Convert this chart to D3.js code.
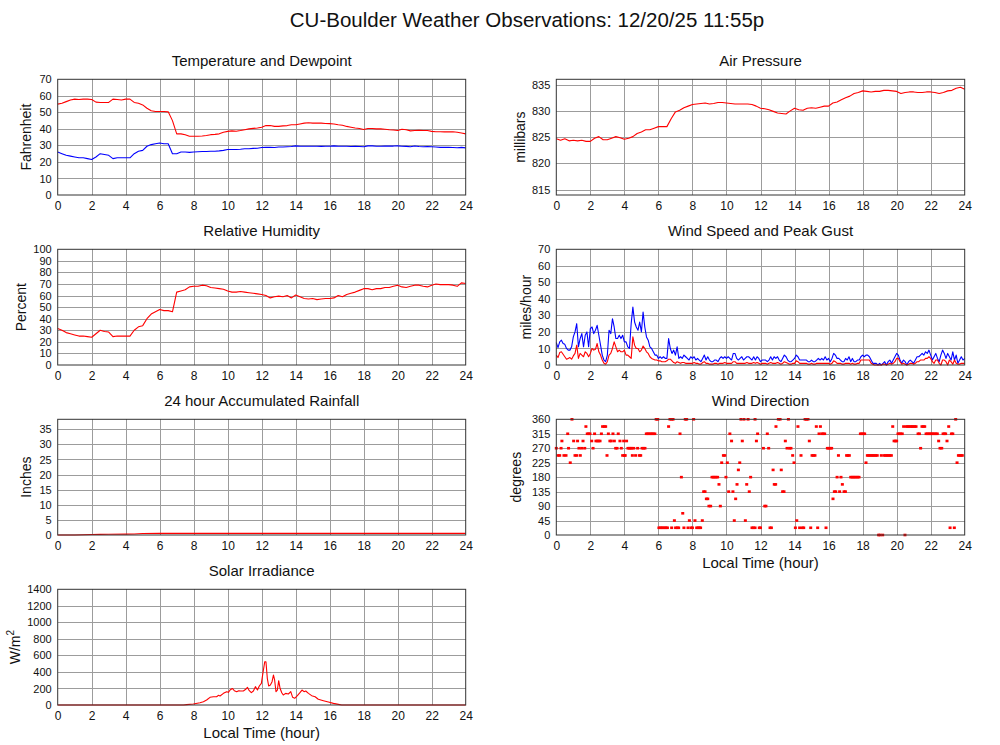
<!DOCTYPE html>
<html><head><meta charset="utf-8">
<script src="https://cdn.jsdelivr.net/npm/d3@7"></script>
<style>
body{margin:0;background:#fff}
svg{display:block}
text{font-family:"Liberation Sans",Arial,Helvetica,sans-serif;fill:#111}
</style>
</head><body>
<svg id="c" width="1000" height="745"></svg>
<script>
// ---------------- DATA ----------------
const mainTitle = "CU-Boulder Weather Observations: 12/20/25 11:55p";
const xTicks = [0,2,4,6,8,10,12,14,16,18,20,22,24];
const quarterHours = d3.range(0, 24.001, 0.25);   // 97 sample times
const tenthHours = d3.range(0, 24.0001, 0.1);     // 241 sample times

const tempF = [55,55.5,56.5,57.5,58,57.8,58,58,57.8,
 56.2,56,56,56,58,57.8,57.5,58,
 58,56,55.5,54.5,52.5,51,50.5,50.5,
 50.5,50.3,45,37,37,36.5,35.5,35.5,
 35.5,35.7,36,36.5,36.7,37,38,38.5,
 38.8,38.6,39,39.5,40,40.3,40.5,41,
 42,42,41.5,41.5,41.8,42,42.5,42.5,
 43,43.5,43.7,43.5,43.5,43.5,43.3,43.2,
 43,42.5,42.2,41.5,41,40.5,40.2,39.6,
 40.2,40.2,40,40,39.8,39.5,39.3,39,
 39.8,39.5,38.8,39,39.2,39,39,38.5,
 38.3,38.3,38.2,38.2,38.3,38,37.5,37];

const dewF = [26,25,24,23.5,23,22.5,22.5,22,21.5,
 23,25,24.5,24,22,22.5,22.5,22.5,
 22.5,25,26.5,27,29.5,30.5,31,31.5,
 31,31,25,25,26,26,25.8,26,
 26.2,26.3,26.3,26.5,26.5,26.7,27,27.5,
 27.5,27.5,27.7,28,28,28.2,28.3,28.7,
 28.8,28.8,28.7,29,29,29.2,29.3,29.7,
 29.5,29.5,29.5,29.5,29.5,29.4,29.5,29.5,
 29.7,29.5,29.5,29.5,29.3,29.4,29.3,29.2,
 29.7,29.7,29.5,29.5,29.6,29.6,29.6,29.7,
 29.5,29.4,29.2,29.6,29.3,29.2,29.3,29.2,
 29,28.8,28.8,28.8,28.7,28.6,28.8,28.5];

const humidity = [31.5,30,28,27,26,25,25,24.5,24,
 27,30,29,28.5,24.5,25,25,25,
 25,30,33,34,40,44,46,48,
 47,47,46,63,64,65,67.5,68,
 68,69,68.5,67,66.5,66,65.5,64,
 63,63,63.5,63,62.5,62,61.5,61,
 60,58,59,59.5,59,60,58,60.5,
 59,57.5,57,57.5,56.5,57,57.5,57.5,
 58,60,59,61,62,63,64.5,66,
 66,65,66,66,67,67,68,69,
 67.5,67,68,69,69,68,67.5,69,
 70,69.5,69.5,69.5,69,68,71,70.5];

const pressure = [824.7,824.4,824.7,824.3,824.4,824.3,824.4,824.2,824.2,
 824.8,825.1,824.5,824.5,824.8,825.1,824.9,824.6,
 824.8,825.1,825.7,826,826.4,826.4,826.7,827,
 827,827,828.5,829.8,830.1,830.6,830.9,831.2,
 831.3,831.4,831.5,831.3,831.4,831.6,831.6,831.5,
 831.4,831.3,831.3,831.3,831.3,831.2,830.9,830.5,
 830.4,830.2,829.9,829.6,829.5,829.4,830,830.5,
 830.2,830.1,830.5,830.6,830.5,830.7,830.9,830.9,
 831.5,831.7,832.1,832.5,832.8,833.3,833.5,833.8,
 833.7,833.6,833.7,833.7,833.9,833.9,833.8,833.7,
 833.3,833.5,833.6,833.6,833.5,833.5,833.6,833.6,
 833.5,833.3,833.5,833.8,833.9,834.3,834.5,834.1];

const windGust = [13.5,10.5,14,15,13,12.5,10,9,9,11,
 17,20,25,11,16,19,11,18,20,11,
 22,23,19,21,24,18,12,6,3,2,
 6,21,19,28,23,16,16,18,16,18,
 14,14,11,10,25,35,26,23,21,26,
 20,32,23,17,15,11,10,8,6,6,
 4,5,4,5,4,4,16,10,7,9,
 6,11,4,5,4,6,5,4,3,
 5,4,5,3,4,3,2,4,6,3,
 5,3,2,2,3,3,2,4,5,4,
 5,4,5,4,3,7,7,4,3,4,
 5,3,4,5,5,4,3,5,3,5,
 4,2,3,3,3,2,3,5,3,5,
 4,5,3,2,4,6,5,3,2,2,
 3,4,6,5,3,3,3,3,3,2,
 2,3,2,2,3,4,3,4,3,5,
 3,4,2,4,7,6,4,4,3,2,
 2,4,3,5,2,4,2,2,3,3,
 5,6,5,6,6,5,3,1,1,1,
 0,1,0,1,2,0,2,3,1,3,
 5,7,6,3,1,3,2,0,2,3,
 2,1,3,5,5,6,7,6,8,7,
 9,6,3,5,7,4,2,6,9,7,
 4,7,5,3,8,3,6,1,3,5,
 3,4];

const windSpeed = [6,4.5,7.5,8,6.5,5,3.5,4,4.5,3.5,
 5.5,7,12,4,7,6,5,8,7,5,
 7,10,9,9.5,13,8,6,3,1,0.5,
 2,6,7,10,14,11,8,9,8,8,
 9,6,6,5,4,17,12,10,10,8,
 9,11.5,10,8,7,5,4,3.5,3,3,
 2.5,2.5,2,2,2,2.5,3.5,3.5,2.5,1.5,
 1,2,1.5,1,1.5,1.5,1,1,1,
 1,1,1.5,1,1,0.5,0.5,1.5,2,1,
 1,0.5,0.5,0.5,1,1,0.5,1,1,1,
 1.5,1,1,1,1,2,2,1,1,1,
 1,1,1,1.5,1,1,1,1.5,1,1.5,
 1,0.5,1,1,1,0.5,1,1.5,1,1,
 1,1.5,1,0.5,1,2,1.5,1,0.5,0.5,
 1,1,2.5,2,1,1,1,1,1,0.5,
 0.5,1,0.5,0.5,1,1,1,1,1,1,
 1,1,0.5,1,2.5,2,1,1,1,0.5,
 0.5,1,1,1,0.5,1,0.5,0.5,1,1,
 3,3,3,3,3,3,1,0.5,0,0,
 0,0,0,0.5,0.5,0,0.5,1,0.5,1,
 2,4,4,2,0.5,1,0.5,0,0.5,1,
 1,0.5,1,2,2,3,3,3,4,4,
 5,4,2,1,3,3,1,0,3,3,
 2,0,3,2,0.5,3,1,0.5,0.5,1,
 1,1];

// [hour, inches]
const rainfall = [[0,0],[1,0],[1.5,0.1],[2,0.15],[2.5,0.2],[3,0.25],[4,0.3],[4.5,0.35],[5,0.5],[6,0.55],[24,0.55]];

// [hour, degrees]
const windDirection = [
 [0,270],[0.1,247.5],[0.2,247.5],[0.28,270],[0.33,292.5],[0.45,247.5],[0.57,247.5],[0.67,315],[0.72,270],[0.82,225],
 [0.92,360],[1.02,292.5],[1.1,247.5],[1.2,247.5],[1.25,292.5],[1.33,270],[1.41,247.5],[1.49,270],[1.57,292.5],[1.67,270],
 [1.74,337.5],[1.82,315],[1.9,315],[1.98,315],[2.08,292.5],[2.16,270],[2.25,315],[2.33,292.5],[2.41,292.5],[2.49,292.5],
 [2.57,292.5],[2.65,315],[2.72,337.5],[2.82,337.5],[2.9,337.5],[2.98,247.5],[3.06,315],[3.15,292.5],[3.23,292.5],[3.33,315],
 [3.41,292.5],[3.49,270],[3.57,270],[3.64,315],[3.74,292.5],[3.82,270],[3.9,247.5],[3.96,292.5],[4.0,247.5],[4.05,247.5],
 [4.13,292.5],[4.21,270],[4.29,270],[4.37,270],[4.44,270],[4.47,247.5],[4.55,270],[4.66,247.5],[4.78,270],[4.88,247.5],
 [4.96,247.5],[5.04,270],[5.13,270],[5.21,270],[5.29,315],[5.37,315],[5.45,315],[5.54,315],[5.62,315],[5.7,315],
 [5.79,315],[5.87,360],[5.96,360],[6.03,22.5],[6.12,22.5],[6.2,22.5],[6.28,22.5],[6.37,22.5],[6.45,22.5],[6.53,22.5],
 [6.6,337.5],[6.68,360],[6.78,360],[6.86,360],[6.78,22.5],[6.94,45],[7.01,22.5],[7.11,22.5],[7.19,22.5],[7.27,315],
 [7.35,180],[7.43,67.5],[7.5,22.5],[7.58,360],[7.66,360],[7.74,22.5],[7.82,45],[7.92,22.5],[8.0,22.5],[8.07,360],
 [8.15,45],[8.25,22.5],[8.33,22.5],[8.41,22.5],[8.48,22.5],[8.58,45],[8.66,135],[8.74,135],[8.82,112.5],[8.9,112.5],
 [8.97,90],[9.07,90],[9.15,180],[9.23,180],[9.31,180],[9.39,180],[9.48,180],[9.56,157.5],[9.64,90],[9.72,225],
 [9.82,247.5],[9.9,247.5],[9.97,180],[10.05,225],[10.13,135],[10.2,315],[10.3,292.5],[10.38,135],[10.46,45],[10.54,112.5],
 [10.62,157.5],[10.7,202.5],[10.78,225],[10.85,360],[10.93,292.5],[11.03,360],[11.11,45],[11.19,157.5],[11.27,360],[11.34,135],
 [11.42,180],[11.5,22.5],[11.58,22.5],[11.68,22.5],[11.68,360],[11.76,292.5],[11.83,315],[11.93,22.5],[12.0,22.5],[12.17,270],
 [12.25,90],[12.32,90],[12.4,315],[12.48,270],[12.56,22.5],[12.64,22.5],[12.74,202.5],[12.81,157.5],[12.89,157.5],[12.91,337.5],
 [13.05,360],[13.15,360],[13.22,202.5],[13.3,135],[13.38,135],[13.46,292.5],[13.56,270],[13.64,360],[13.71,270],[13.79,270],
 [13.89,247.5],[13.97,225],[14.05,22.5],[14.13,45],[14.2,337.5],[14.3,22.5],[14.38,247.5],[14.46,22.5],[14.54,22.5],[14.62,360],
 [14.7,360],[14.79,360],[14.87,292.5],[14.95,22.5],[15.03,247.5],[15.11,247.5],[15.2,247.5],[15.28,337.5],[15.36,22.5],[15.44,315],
 [15.52,337.5],[15.6,315],[15.68,315],[15.77,315],[15.85,22.5],[15.93,270],[16.01,270],[16.1,270],[16.18,270],[16.26,112.5],
 [16.34,135],[16.42,135],[16.5,180],[16.58,247.5],[16.65,135],[16.73,180],[16.81,157.5],[16.91,135],[16.99,135],[17.06,247.5],
 [17.14,247.5],[17.22,247.5],[17.3,180],[17.38,180],[17.46,180],[17.54,180],[17.62,180],[17.71,180],[17.79,180],[17.87,315],
 [17.95,315],[18.04,315],[18.12,315],[18.2,225],[18.28,247.5],[18.36,247.5],[18.45,247.5],[18.53,247.5],[18.61,247.5],[18.69,247.5],
 [18.77,247.5],[18.86,247.5],[18.94,0],[19.02,0],[19.18,0],[19.1,247.5],[19.27,247.5],[19.35,247.5],[19.44,247.5],[19.52,247.5],
 [19.6,247.5],[19.69,247.5],[19.77,337.5],[19.85,292.5],[19.93,292.5],[20.0,292.5],[20.08,315],[20.16,315],[20.24,315],[20.33,315],
 [20.41,337.5],[20.49,0],[20.57,337.5],[20.65,337.5],[20.73,337.5],[20.82,337.5],[20.9,337.5],[20.98,337.5],[21.06,337.5],[21.14,337.5],
 [21.26,315],[21.34,315],[21.41,270],[21.49,337.5],[21.57,337.5],[21.65,337.5],[21.73,315],[21.81,315],[21.9,315],[21.98,315],
 [22.06,315],[22.14,315],[22.22,315],[22.31,315],[22.39,315],[22.47,292.5],[22.55,270],[22.65,270],[22.73,315],[22.81,315],
 [22.88,315],[22.96,292.5],[23.06,337.5],[23.14,22.5],[23.22,315],[23.3,315],[23.39,22.5],[23.47,360],[23.55,225],[23.63,247.5],
 [23.71,247.5],[23.79,247.5],[23.86,247.5]];

// [hour, W/m^2]
const solar = [[0,0],[7.4,0],[7.59,4],[7.98,12],[8.37,28],[8.57,40],[8.76,60],[8.96,93],[9.16,100],[9.35,100],[9.45,117],[9.55,109],
 [9.75,141],[9.94,161],[10.04,153],[10.14,181],[10.27,200],[10.39,173],[10.53,161],[10.65,173],[10.76,169],[10.92,169],
 [11.06,190],[11.16,214],[11.27,173],[11.39,149],[11.51,169],[11.63,222],[11.75,181],[11.86,230],[11.98,262],[12.1,424],
 [12.18,524],[12.25,524],[12.33,323],[12.41,230],[12.51,242],[12.61,282],[12.69,363],[12.76,303],[12.84,161],[12.92,181],
 [13.0,294],[13.08,202],[13.18,149],[13.27,121],[13.41,141],[13.57,133],[13.71,161],[13.82,93],[13.94,81],[14.1,113],
 [14.25,149],[14.37,181],[14.49,161],[14.59,169],[14.75,141],[14.94,113],[15.14,100],[15.33,69],[15.63,52],[15.92,36],
 [16.22,20],[16.51,8],[16.71,0],[24,0]];

// ---------------- LAYOUT ----------------
const cols = [[57.7, 465.7],[556.3, 964.7]];
const rows = [[79.3,195],[249.3,365],[419.3,535],[589.3,705]];

const panels = [
 {title:"Temperature and Dewpoint", ylabel:"Fahrenheit", c:0, r:0, domain:[0,70], yticks:d3.range(0,71,10), labelX:26,
  lines:[{x:quarterHours,y:tempF,color:"#ff0000"},{x:quarterHours,y:dewF,color:"#0000ff"}]},
 {title:"Air Pressure", ylabel:"millibars", c:1, r:0, domain:[814,836], yticks:[815,820,825,830,835], labelX:520,
  lines:[{x:quarterHours,y:pressure,color:"#ff0000"}]},
 {title:"Relative Humidity", ylabel:"Percent", c:0, r:1, domain:[0,100], yticks:d3.range(0,101,10), labelX:21,
  lines:[{x:quarterHours,y:humidity,color:"#ff0000"}]},
 {title:"Wind Speed and Peak Gust", ylabel:"miles/hour", c:1, r:1, domain:[0,70], yticks:d3.range(0,71,10), labelX:526,
  lines:[{x:tenthHours,y:windGust,color:"#0000ff"},{x:tenthHours,y:windSpeed,color:"#ff0000"}]},
 {title:"24 hour Accumulated Rainfall", ylabel:"Inches", c:0, r:2, domain:[0,38.3], yticks:d3.range(0,36,5), labelX:26,
  lines:[{x:rainfall.map(d=>d[0]),y:rainfall.map(d=>d[1]),color:"#ff0000"}]},
 {title:"Wind Direction", ylabel:"degrees", c:1, r:2, domain:[0,360], yticks:d3.range(0,361,45), labelX:516, xlabel:true,
  points:windDirection},
 {title:"Solar Irradiance", ylabel:"W/m", sup:"2", c:0, r:3, domain:[0,1400], yticks:d3.range(0,1401,200), labelX:15, xlabel:true,
  lines:[{x:solar.map(d=>d[0]),y:solar.map(d=>d[1]),color:"#ff0000"}]}
];

const svg = d3.select("#c");
const FONT = '"Liberation Sans",Arial,Helvetica,sans-serif';
const fmt = d3.format("d");

svg.append("text").attr("x",527).attr("y",27).attr("text-anchor","middle")
  .attr("font-size",20.5).text(mainTitle);

panels.forEach(p => {
  const [x0,x1] = cols[p.c], [y0,y1] = rows[p.r];
  const x = d3.scaleLinear().domain([0,24]).range([x0,x1]);
  const y = d3.scaleLinear().domain(p.domain).range([y1,y0]);
  const g = svg.append("g");

  // grid
  g.append("g").attr("transform",`translate(0,${y1})`)
    .call(d3.axisBottom(x).tickValues(xTicks.filter(t=>t>0&&t<24)).tickSize(-(y1-y0)).tickFormat(""))
    .call(s=>{s.select(".domain").remove(); s.selectAll("line").attr("stroke","#9c9c9c").attr("shape-rendering","crispEdges");});
  g.append("g").attr("transform",`translate(${x0},0)`)
    .call(d3.axisLeft(y).tickValues(p.yticks.filter(t=>t>p.domain[0]&&t<p.domain[1])).tickSize(-(x1-x0)).tickFormat(""))
    .call(s=>{s.select(".domain").remove(); s.selectAll("line").attr("stroke","#9c9c9c").attr("shape-rendering","crispEdges");});

  // tick labels
  g.append("g").attr("transform",`translate(${x0},0)`)
    .call(d3.axisLeft(y).tickValues(p.yticks).tickFormat(fmt).tickSize(0).tickPadding(6))
    .call(s=>{s.select(".domain").remove(); s.selectAll("text").attr("font-size",11).attr("font-family",FONT).attr("fill","#111");});
  g.append("g").attr("transform",`translate(0,${y1})`)
    .call(d3.axisBottom(x).tickValues(xTicks).tickFormat(fmt).tickSize(0).tickPadding(6))
    .call(s=>{s.select(".domain").remove(); s.selectAll("text").attr("font-size",12).attr("font-family",FONT).attr("fill","#111");});

  // data
  if (p.lines) p.lines.forEach(L => {
    const pts = L.y.map((v,i)=>[L.x[i], v]);
    g.append("path").datum(pts)
      .attr("fill","none").attr("stroke",L.color).attr("stroke-width",1.1)
      .attr("stroke-linejoin","round")
      .attr("d", d3.line().x(d=>x(d[0])).y(d=>y(d[1])));
  });
  if (p.points) {
    g.append("g").selectAll("rect").data(p.points).join("rect")
      .attr("x",d=>x(d[0])-1.5).attr("y",d=>y(d[1])-1.3)
      .attr("width",3).attr("height",2.6).attr("fill","#ff0000");
  }

  // frame
  g.append("rect").attr("x",x0).attr("y",y0).attr("width",x1-x0).attr("height",y1-y0)
    .attr("fill","none").attr("stroke","#333").attr("stroke-width",1);

  // titles
  g.append("text").attr("x",(x0+x1)/2).attr("y",y0-13).attr("text-anchor","middle")
    .attr("font-size",15).text(p.title);
  const yl = g.append("text").attr("transform",`translate(${p.labelX},${(y0+y1)/2}) rotate(-90)`)
    .attr("text-anchor","middle").attr("font-size",14).attr("dy","0.35em");
  yl.append("tspan").text(p.ylabel);
  if (p.sup) yl.append("tspan").attr("font-size",10).attr("dy","-0.55em").text(p.sup);
  if (p.xlabel) {
    g.append("text").attr("x",(x0+x1)/2).attr("y",y1+33).attr("text-anchor","middle")
      .attr("font-size",15).text("Local Time (hour)");
  }
});
</script>
</body></html>
